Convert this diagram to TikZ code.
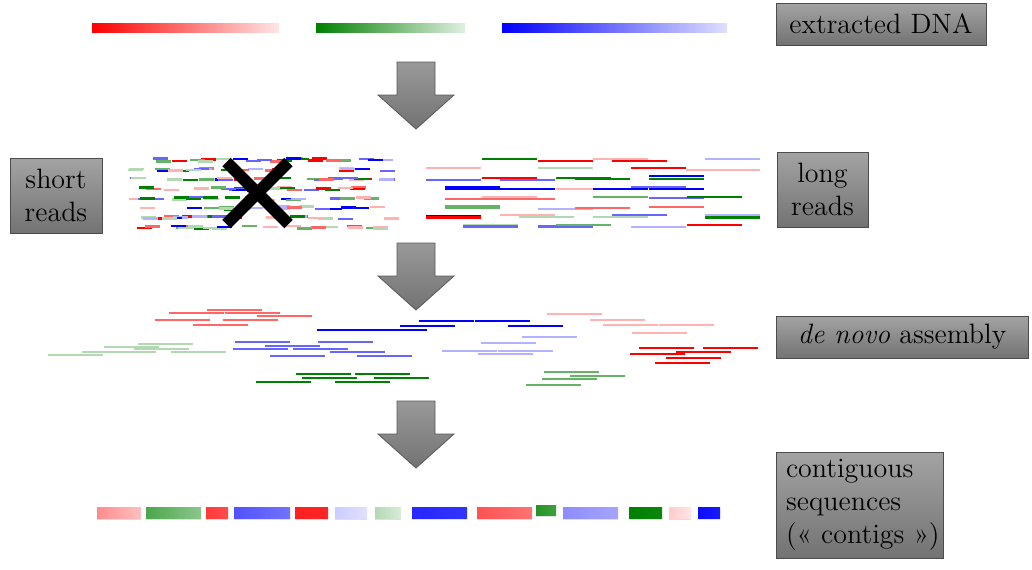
\documentclass[tikz,border=0pt]{standalone}
\usepackage{fontspec}
\usepackage{tikz}
\usetikzlibrary{shadows}
\usepackage{xcolor}

\definecolor{gn}{RGB}{0,128,0}
\colorlet{rd}{red}
\colorlet{bl}{blue}
\colorlet{rdM}{red!60}
\colorlet{gnM}{gn!60}
\colorlet{blM}{blue!60}
\colorlet{rdL}{red!30}
\colorlet{gnL}{gn!30}
\colorlet{blL}{blue!30}

\begin{document}
\begin{tikzpicture}[x=0.5pt, y=-0.5pt,
    labelbox/.style={draw=black!70, top color=black!36, bottom color=black!55, inner sep=0pt, align=center, font=\fontsize{14}{16.5}\selectfont},
    read/.style={line width=1.25pt},
    blockarrow/.style={draw=black!65, top color=black!40, bottom color=black!55},
    contig/.style={drop shadow={shadow xshift=0pt, shadow yshift=-1pt, opacity=0.25}}]
    \useasboundingbox (0,0) rectangle (1032,569);

    % Labels
    \node[labelbox, minimum width=105pt, minimum height=21pt] (dna) at (881,24) {extracted DNA};
    \node[labelbox, minimum width=46pt, minimum height=37.5pt] (short) at (56,195.5) {short\\reads};
    \node[labelbox, minimum width=45.5pt, minimum height=37.5pt] (long) at (822.5,189.5) {long\\reads};
    \node[labelbox, minimum width=126pt, minimum height=21pt] (assembly) at (902,337) {\textit{de novo} assembly};
    \node[labelbox, minimum height=53pt, text width=77.5pt, inner xsep=3pt, align=left] (contigs) at (859.5,505) {\mbox{\hspace*{2pt}contiguous}\\\mbox{\hspace*{2pt}sequences}\\\mbox{\hspace*{2pt}(« contigs »)}};

    % Extracted DNA
    \shade[left color=rd, right color=red!10] (92,23) rectangle (279,32);
    \shade[left color=gn, right color=gn!12] (316,23) rectangle (465,32);
    \shade[left color=bl, right color=blue!12] (502,23) rectangle (727,32);

    % Block arrows
    \foreach \t in {62,243,401}
        \draw[blockarrow] (397,\t) -- (435,\t) -- (435,\t+33) -- (454,\t+33) -- (416,\t+67) -- (378,\t+33) -- (397,\t+33) -- cycle;

    % Short reads
    \pgfmathsetseed{2718}
    \foreach \row in {0,...,7}{
        \foreach \k in {1,...,22}{
            \pgfmathrandominteger{\hue}{0}{8}
            \pgfmathsetmacro{\xs}{128+258*rnd}
            \pgfmathsetmacro{\ys}{160+9.6*\row+1.5*rand}
            \pgfmathparse{{"rd","rdM","rdL","gn","gnM","gnL","bl","blM","blL"}[\hue]}
            \edef\col{\pgfmathresult}
            \draw[read, \col] (\xs,\ys) -- ++(15,0);
        }
    }
    \draw[line width=6pt] (226.5,162) -- (288.5,224);
    \draw[line width=6pt] (226.5,224) -- (288.5,162);

    % Long reads
    \foreach \x/\y/\c in {482/159/gn, 538/161/rd, 593/159/rdL, 612/161/rd, 705/159/blL,
        426/168/rdL, 538/168/gnL, 631/168/rd, 686/170/rdL, 705/170/rdL,
        426/180/blM, 482/178/rd, 500/180/blM, 556/178/gn, 575/179/gn, 649/176/bl, 649/179/gn,
        445/187/bl, 556/189/rdL, 445/189/bl, 500/189/bl, 593/189/bl, 649/189/bl, 631/187/blM,
        482/197/rdL, 445/199/rdM, 500/199/rdM, 593/197/gnM, 649/198/blM, 687/197/gn,
        445/206/gnM, 445/208/gnM, 538/209/blL, 575/208/rdM, 649/207/rdM,
        426/216/bl, 426/217.5/rd, 500/215/rdL, 519/217/gnL, 593/217/gnL, 612/215/blM, 705/215/blL, 705/217.5/gn,
        463/225/gnL, 463/226.5/blM, 538/226.5/blM, 556/225/gnM, 631/227/blL, 687/225/rd}
        \draw[read, \c] (\x,\y) -- ++(55,0);

    % De novo assembly
    \foreach \x/\y/\c in {207/310/rdM, 169/313/rdM, 225/313/rdM, 257/316/rdM, 155/320/rdM, 223/320/rdM, 193/325/rdM,
        419/321/bl, 475/321/bl, 400/326/bl, 508/326/bl, 317/330/bl, 372/330/bl,
        138/344/gnL, 104/347/gnL, 134/349/gnL, 82/352/gnL, 101/352/gnL, 171/352/gnL, 48/355/gnL,
        235/342/blM, 318/342/blM, 265/346/blM, 233/349/blM, 293/349/blM, 330/352/blM, 270/356/blM, 357/356/blM,
        296/374/gn, 355/374/gn, 302/378/gn, 374/378/gn, 256/382/gn, 335/382/gn,
        547/314/rdL, 590/320/rdL, 603/325/rdL, 659/325/rdL, 632/333/rdL,
        522/337/blL, 481/343/blL, 442/351/blL, 498/351/blL, 478/354/blL,
        639/348/rd, 703/348/rd, 676/352/rd, 630/354/rd, 666/358/rd, 655/363/rd,
        544/372/gnM, 570/376/gnM, 542/379/gnM, 526/385/gnM}
        \draw[read, \c] (\x,\y) -- ++(55,0);

    % Contigs
    \foreach \xa/\xb/\ca/\cb in {97/141/red!45/red!25, 146/201/gn!70/gn!45, 206/228/red!78/red!70,
        234/290/blue!68/blue!55, 295/328/red!88/red!85, 335/367/blue!20/blue!12, 375/401/gn!30/gn!15,
        412/467/blue!85/blue!80, 477/532/red!68/red!55, 563/618/blue!45/blue!35,
        629/662/gn/gn!95, 669/691/red!20/red!10, 698/720/blue!95/blue!90}
        \shade[contig, left color=\ca, right color=\cb] (\xa,507) rectangle (\xb,518);
    \shade[contig, left color=gn!85, right color=gn!75] (536,505) rectangle (556,515);
\end{tikzpicture}
\end{document}
